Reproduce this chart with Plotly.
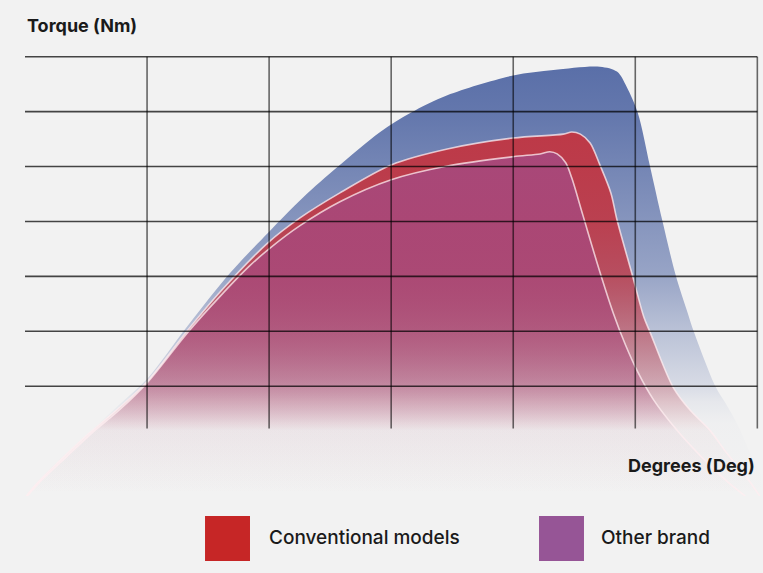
import plotly.graph_objects as go

# torque curves (x = degree units, y = torque units)
blue_x = [0.01, 0.10, 0.25, 0.52, 0.76, 1.00, 1.33, 1.68, 1.99, 2.28, 2.56, 2.91, 3.16, 3.46, 4.00,
          4.33, 4.71, 4.85, 4.93, 5.02, 5.12, 5.22, 5.33, 5.43, 5.48, 5.66, 5.74, 5.84, 5.95, 6.05]
blue_y = [0.0, 0.27, 0.60, 1.14, 1.64, 2.13, 3.09, 4.06, 4.79, 5.44, 5.99, 6.63, 6.98, 7.30, 7.66,
          7.76, 7.82, 7.73, 7.45, 6.98, 6.01, 5.03, 4.03, 3.33, 2.99, 1.98, 1.69, 1.29, 0.74, 0.30]

conv_x = [0.01, 0.11, 0.28, 0.52, 0.77, 1.00, 1.33, 1.60, 1.99, 2.25, 2.58, 3.00, 3.46, 4.00, 4.41,
          4.48, 4.55, 4.63, 4.71, 4.80, 4.85, 4.98, 5.07, 5.12, 5.31, 5.45, 5.61, 5.75, 5.90, 6.02]
conv_y = [0.0, 0.26, 0.63, 1.13, 1.60, 2.08, 3.01, 3.72, 4.61, 5.06, 5.52, 6.03, 6.32, 6.52, 6.59,
          6.63, 6.59, 6.43, 6.03, 5.52, 5.03, 3.99, 3.26, 2.99, 1.98, 1.56, 1.20, 0.78, 0.38, 0.0]

other_x = [0.02, 0.12, 0.29, 0.53, 0.78, 1.00, 1.33, 1.60, 1.84, 2.01, 2.25, 2.58, 3.00, 3.46, 4.00,
           4.22, 4.30, 4.36, 4.43, 4.48, 4.57, 4.71, 4.82, 4.92, 5.02, 5.15, 5.34, 5.53, 5.74, 5.90]
other_y = [0.0, 0.25, 0.61, 1.11, 1.58, 2.06, 2.97, 3.64, 4.19, 4.52, 4.92, 5.36, 5.76, 6.01, 6.18,
           6.23, 6.27, 6.23, 6.07, 5.79, 5.12, 4.08, 3.33, 2.75, 2.26, 1.75, 1.20, 0.74, 0.29, 0.0]

x_grid = [1, 2, 3, 4, 5, 6]
y_grid = [2, 3, 4, 5, 6, 7, 8]

BG = '#f2f2f2'


def fade(rgb, stops, top):
    scale = [[0, 'rgba(%d,%d,%d,0)' % rgb]]
    for f, a in stops:
        scale.append([f, 'rgba(%d,%d,%d,%.2f)' % (rgb + (a,))])
    return dict(type='vertical', start=0, stop=top, colorscale=scale)


fig = go.Figure()

fig.add_trace(go.Scatter(
    x=blue_x, y=blue_y, name='Our model', mode='lines',
    line=dict(width=0, shape='spline', smoothing=0.9),
    fill='tozeroy',
    fillgradient=fade((90, 111, 168),
                      [(0.17, 0.02), (0.22, 0.08), (0.26, 0.18), (0.38, 0.36),
                       (0.52, 0.6), (0.88, 0.93), (1, 1.0)], max(blue_y)),
    showlegend=False, hoverinfo='skip'))

fig.add_trace(go.Scatter(
    x=conv_x, y=conv_y, name='Conventional models', mode='lines',
    line=dict(width=1.6, color='rgba(255,238,240,0.75)', shape='spline', smoothing=0.9),
    fill='tozeroy',
    fillgradient=fade((192, 55, 68),
                      [(0.18, 0.03), (0.30, 0.3), (0.45, 0.55), (0.6, 0.78),
                       (0.75, 0.9), (1, 0.97)], max(conv_y)),
    showlegend=False, hoverinfo='skip'))

fig.add_trace(go.Scatter(
    x=other_x, y=other_y, name='Other brand', mode='lines',
    line=dict(width=1.6, color='rgba(255,238,240,0.75)', shape='spline', smoothing=0.9),
    fill='tozeroy',
    fillgradient=fade((168, 72, 122),
                      [(0.19, 0.03), (0.33, 0.35), (0.48, 0.6), (0.64, 0.8),
                       (1, 0.98)], max(other_y)),
    showlegend=False, hoverinfo='skip'))

shapes = []
for v in y_grid:
    shapes.append(dict(type='line', xref='x', yref='y', x0=0, x1=6, y0=v, y1=v, layer='above',
                       line=dict(color='rgba(0,0,0,0.72)', width=1.6)))
for v in x_grid:
    shapes.append(dict(type='line', xref='x', yref='y', x0=v, x1=v, y0=1.23, y1=8, layer='above',
                       line=dict(color='rgba(0,0,0,0.58)', width=1.6)))

# legend squares
shapes.append(dict(type='rect', xref='paper', yref='paper', x0=0.2446, x1=0.3057, y0=-0.0452, y1=-0.147,
                   fillcolor='#c62626', line=dict(width=0)))
shapes.append(dict(type='rect', xref='paper', yref='paper', x0=0.6984, x1=0.7595, y0=-0.0452, y1=-0.147,
                   fillcolor='#965596', line=dict(width=0)))

annotations = [
    dict(text='<b>Torque (Nm)</b>', xref='paper', yref='paper', x=0, y=1.0656,
         xanchor='left', yanchor='middle', showarrow=False,
         font=dict(family='Inter', size=18, color='#1a1a1a')),
    dict(text='<b>Degrees (Deg)</b>', xref='paper', yref='paper', x=0.9946, y=0.0679,
         xanchor='right', yanchor='middle', showarrow=False,
         font=dict(family='Inter', size=18, color='#1a1a1a')),
    dict(text='Conventional models', xref='paper', yref='paper', x=0.3288, y=-0.095,
         xanchor='left', yanchor='middle', showarrow=False,
         font=dict(family='Inter', size=19, color='#1a1a1a', weight=500)),
    dict(text='Other brand', xref='paper', yref='paper', x=0.7799, y=-0.095,
         xanchor='left', yanchor='middle', showarrow=False,
         font=dict(family='Inter', size=19, color='#1a1a1a', weight=500)),
]

fig.update_layout(
    width=763, height=573,
    margin=dict(l=25, r=2, t=54, b=77),
    paper_bgcolor=BG,
    plot_bgcolor=BG,
    xaxis=dict(range=[0, 6.03], showgrid=False, zeroline=False, showticklabels=False,
               showline=False, fixedrange=True),
    yaxis=dict(range=[0, 8.05], showgrid=False, zeroline=False, showticklabels=False,
               showline=False, fixedrange=True),
    shapes=shapes,
    annotations=annotations,
    showlegend=False,
)

fig.write_html("out.html", config={'displayModeBar': False},
               post_script="document.body.style.margin='0';")
